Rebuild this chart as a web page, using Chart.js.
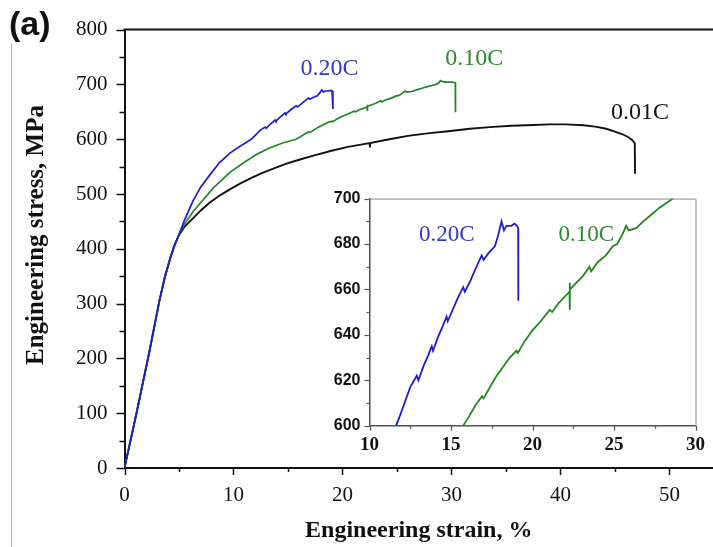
<!DOCTYPE html>
<html>
<head>
<meta charset="utf-8">
<script src="https://cdn.jsdelivr.net/npm/chart.js@4.4.1/dist/chart.umd.min.js"></script>
<style>
  body { margin: 0; background: #fff; }
  #wrap { position: relative; width: 713px; height: 547px; }
  #mainChart { position: absolute; left: 0; top: 0; }
  #insetChart { position: absolute; left: 320px; top: 180px; }
</style>
</head>
<body>
<div id="wrap">
  <canvas id="mainChart" width="713" height="547"></canvas>
  <canvas id="insetChart" width="393" height="282"></canvas>
</div>
<script>
// strain (%) vs stress (MPa) for each carbon level
const curve020 = [
  [0, 0], [1.1, 100], [2.3, 214], [3.2, 305], [3.7, 348], [4.2, 383], [4.6, 407], [5.0, 426],
  [5.5, 452], [6.3, 488], [7.0, 513], [7.8, 534], [8.7, 557], [9.7, 575], [10.6, 587], [11.1, 593],
  [11.63, 600], [11.9, 605], [12.2, 611], [12.5, 617], [12.9, 622], [13.0, 620], [13.3, 626],
  [13.6, 631], [13.82, 635], [13.9, 633], [14.2, 639], [14.5, 644], [14.73, 648], [14.8, 646],
  [15.1, 651], [15.4, 656], [15.75, 661], [15.85, 659], [16.2, 664], [16.5, 669], [16.88, 675],
  [17.0, 673], [17.3, 676], [17.69, 679], [17.9, 684], [18.1, 690], [18.25, 686], [18.4, 688],
  [18.7, 688], [18.9, 689], [19.05, 688], [19.12, 687], [19.13, 655]
];
const curve010 = [
  [0, 0], [1.1, 100], [2.3, 214], [3.2, 305], [3.7, 348], [4.2, 383], [4.6, 407], [5.0, 426],
  [5.5, 445], [6.3, 468], [7.2, 489], [8.2, 512], [9.7, 540], [11.0, 558], [12.1, 572],
  [13.3, 584], [14.5, 593], [15.75, 600], [16.1, 604], [16.5, 609], [16.9, 613], [17.0, 612],
  [17.39, 617], [17.8, 622], [18.2, 626], [18.6, 630], [19.02, 633], [19.1, 632], [19.5, 637],
  [20.0, 642], [20.5, 646], [21.06, 651], [21.2, 650], [21.6, 654], [22.0, 657], [22.27, 659],
  [22.28, 663], [22.29, 651], [22.3, 660], [22.7, 663], [23.1, 666], [23.5, 670], [23.6, 668],
  [24.0, 672], [24.5, 675], [24.93, 679], [25.2, 680], [25.5, 684], [25.75, 688], [25.9, 686],
  [26.36, 687], [26.8, 690], [27.3, 693], [27.79, 696], [28.2, 698], [28.6, 700], [28.85, 703],
  [29.0, 707], [29.2, 705], [29.5, 704], [30.0, 704], [30.35, 703], [30.37, 649]
];
const curve001 = [
  [0, 0], [1.1, 100], [2.3, 214], [3.2, 305], [3.7, 348], [4.2, 383], [4.6, 407], [5.0, 425],
  [5.5, 440], [6.3, 456], [7.0, 470], [7.8, 484], [8.8, 498], [9.7, 509], [10.6, 519],
  [11.6, 529], [12.6, 538], [13.6, 546], [14.8, 555], [16.1, 563], [17.5, 571], [19.0, 579],
  [20.5, 586], [22.5, 593], [22.52, 585], [22.54, 593], [24.3, 600], [26, 606], [28, 611],
  [29.9, 615], [31.7, 619], [33.5, 622], [35.5, 624.5], [37.5, 626], [39, 627], [40.5, 627],
  [42.1, 625.5], [43.2, 623], [44.2, 619], [45.0, 614], [45.7, 609], [46.2, 604], [46.6, 598],
  [46.82, 593], [46.85, 537]
];
const seriesNames = ['0.20C', '0.10C', '0.01C'];
const seriesColors = ['#1c1cd6', '#1f871f', '#111111'];
const labelColors = ['#3535d0', '#2f8a2f', '#111111'];

const xTitle = 'Engineering strain, %';
const yTitle = 'Engineering stress, MPa';

const toXY = (pts) => pts.map(p => ({ x: p[0], y: p[1] }));
const serif = 'Liberation Serif';

// outward tick marks, long on labelled values and short in between
const tickMarks = {
  id: 'tickMarks',
  afterDraw(chart, args, opts) {
    const ctx = chart.ctx;
    ctx.save();
    ctx.strokeStyle = opts.color;
    ctx.lineWidth = opts.width;
    ['x', 'y'].forEach(id => {
      const scale = chart.scales[id];
      const o = opts[id];
      scale.ticks.forEach(t => {
        const r = Math.abs(t.value % o.major);
        const len = (r < 1e-6 || Math.abs(r - o.major) < 1e-6) ? o.long : o.short;
        const p = Math.round(scale.getPixelForValue(t.value)) + 0.5;
        ctx.beginPath();
        if (scale.isHorizontal()) {
          ctx.moveTo(p, scale.top);
          ctx.lineTo(p, scale.top + len);
        } else {
          ctx.moveTo(scale.right, p);
          ctx.lineTo(scale.right - len, p);
        }
        ctx.stroke();
      });
    });
    ctx.restore();
  }
};

// text tags next to each curve, placed in data units
const curveLabels = {
  id: 'curveLabels',
  afterDatasetsDraw(chart, args, opts) {
    const { ctx, scales: { x, y } } = chart;
    ctx.save();
    ctx.font = opts.font;
    ctx.textAlign = 'center';
    ctx.textBaseline = 'middle';
    opts.items.forEach(it => {
      ctx.fillStyle = it.color;
      ctx.fillText(it.text, x.getPixelForValue(it.at[0]), y.getPixelForValue(it.at[1]));
    });
    ctx.restore();
  }
};

// top frame line, panel letter, left panel edge and the rotated y title
const mainDecor = {
  id: 'mainDecor',
  afterDraw(chart) {
    const { ctx, chartArea } = chart;
    ctx.save();
    ctx.strokeStyle = '#b4b4b4';
    ctx.lineWidth = 1;
    ctx.beginPath();
    ctx.moveTo(11.5, 43);
    ctx.lineTo(11.5, 547);
    ctx.stroke();

    ctx.strokeStyle = '#111';
    ctx.lineWidth = 2;
    ctx.beginPath();
    ctx.moveTo(chartArea.left - 1, chartArea.top);
    ctx.lineTo(chartArea.right, chartArea.top);
    ctx.stroke();

    ctx.fillStyle = '#111';
    ctx.textAlign = 'left';
    ctx.textBaseline = 'middle';
    ctx.font = 'bold 34px "Liberation Sans"';
    ctx.fillText('(a)', 9, 26);

    ctx.translate(37, 235);
    ctx.rotate(-Math.PI / 2);
    ctx.textAlign = 'center';
    ctx.font = 'bold 25px "' + serif + '"';
    ctx.fillText(yTitle, 0, 0);
    ctx.restore();
  }
};

const insetFrame = {
  id: 'insetFrame',
  afterDraw(chart) {
    const { ctx, chartArea } = chart;
    ctx.save();
    ctx.strokeStyle = '#8c8c8c';
    ctx.lineWidth = 1;
    ctx.beginPath();
    ctx.moveTo(chartArea.left, chartArea.top + 0.5);
    ctx.lineTo(chartArea.right + 0.5, chartArea.top + 0.5);
    ctx.lineTo(chartArea.right + 0.5, chartArea.bottom);
    ctx.stroke();
    ctx.restore();
  }
};

const makeSet = (i, pts, width) => ({
  label: seriesNames[i],
  data: toXY(pts),
  borderColor: seriesColors[i],
  borderWidth: width,
  pointRadius: 0,
  tension: 0,
  fill: false
});

new Chart(document.getElementById('mainChart'), {
  type: 'line',
  data: {
    datasets: [
      makeSet(0, curve020, 1.7),
      makeSet(1, curve010, 1.7),
      makeSet(2, curve001, 1.9)
    ]
  },
  options: {
    responsive: false,
    animation: false,
    layout: { padding: { top: 27, right: 0, left: 0, bottom: 0 } },
    plugins: {
      legend: { display: false },
      tooltip: { enabled: false },
      tickMarks: {
        color: '#111', width: 1.5,
        x: { major: 10, long: 7, short: 4 },
        y: { major: 100, long: 8, short: 5 }
      },
      curveLabels: {
        font: '24px "' + serif + '"',
        items: [
          { text: seriesNames[0], color: labelColors[0], at: [18.8, 728] },
          { text: seriesNames[1], color: labelColors[1], at: [32.1, 747] },
          { text: seriesNames[2], color: labelColors[2], at: [47.3, 649] }
        ]
      }
    },
    scales: {
      x: {
        type: 'linear', min: 0, max: 54,
        afterFit: s => { s.height = 79; },
        grid: { display: false, drawTicks: false },
        border: { display: true, color: '#111', width: 2 },
        ticks: {
          stepSize: 5, autoSkip: false, includeBounds: false, maxRotation: 0,
          padding: 15, color: '#111',
          font: { family: serif, size: 21 },
          callback: v => (v % 10 === 0 ? v : '')
        },
        title: {
          display: true, text: xTitle, color: '#111',
          font: { family: serif, size: 24, weight: 'bold' },
          padding: { top: 0, bottom: 2 }
        }
      },
      y: {
        type: 'linear', min: 0, max: 800,
        afterFit: s => { s.width = 124.5; },
        grid: { display: false, drawTicks: false },
        border: { display: true, color: '#111', width: 2 },
        ticks: {
          stepSize: 50, autoSkip: false, padding: 17, color: '#111',
          font: { family: serif, size: 21 },
          callback: v => (v % 100 === 0 ? v : '')
        }
      }
    }
  },
  plugins: [tickMarks, curveLabels, mainDecor]
});

new Chart(document.getElementById('insetChart'), {
  type: 'line',
  data: {
    datasets: [
      makeSet(0, curve020, 1.8),
      makeSet(1, curve010, 1.8)
    ]
  },
  options: {
    responsive: false,
    animation: false,
    layout: { padding: { top: 11.5, right: 16.5, left: 0, bottom: 0 } },
    plugins: {
      legend: { display: false },
      tooltip: { enabled: false },
      tickMarks: {
        color: '#555', width: 1.2,
        x: { major: 5, long: 5, short: 3 },
        y: { major: 20, long: 5, short: 3 }
      },
      curveLabels: {
        font: '23px "' + serif + '"',
        items: [
          { text: seriesNames[0], color: labelColors[0], at: [14.74, 683.8] },
          { text: seriesNames[1], color: labelColors[1], at: [23.3, 683.8] }
        ]
      }
    },
    scales: {
      x: {
        type: 'linear', min: 10, max: 30,
        afterFit: s => { s.height = 36.3; },
        grid: { display: false, drawTicks: false },
        border: { display: true, color: '#555', width: 1.5 },
        ticks: {
          stepSize: 2.5, autoSkip: false, includeBounds: false, maxRotation: 0,
          padding: 8, color: '#111',
          font: { family: serif, size: 19, weight: 'bold' },
          callback: v => (v % 5 === 0 ? v : '')
        }
      },
      y: {
        type: 'linear', min: 600, max: 700,
        afterFit: s => { s.width = 49.5; },
        grid: { display: false, drawTicks: false },
        border: { display: true, color: '#555', width: 1.5 },
        ticks: {
          stepSize: 10, autoSkip: false, padding: 9, color: '#111',
          font: { family: 'Liberation Sans', size: 16, weight: 'bold' },
          callback: v => (v % 20 === 0 ? v : '')
        }
      }
    }
  },
  plugins: [tickMarks, curveLabels, insetFrame]
});
</script>
</body>
</html>
